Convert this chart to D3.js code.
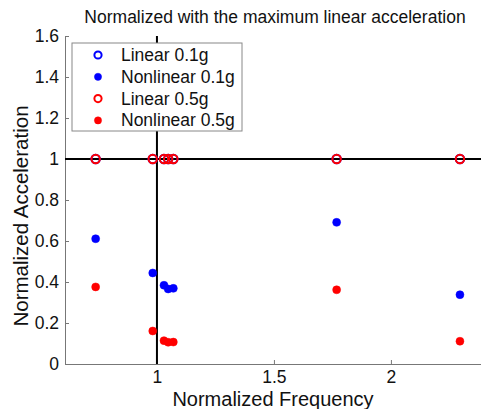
<!DOCTYPE html>
<html><head><meta charset="utf-8">
<script src="https://cdn.jsdelivr.net/npm/d3@7"></script>
<style>body{margin:0;background:#fff}svg{display:block}text{font-family:"Liberation Sans",Arial,sans-serif;fill:#111}</style>
</head><body>
<script>
const freq = [0.738, 0.982, 1.030, 1.048, 1.070, 1.768, 2.295];
const linear01 = [1, 1, 1, 1, 1, 1, 1];
const nonlinear01 = [0.611, 0.444, 0.384, 0.366, 0.369, 0.691, 0.338];
const linear05 = [1, 1, 1, 1, 1, 1, 1];
const nonlinear05 = [0.376, 0.161, 0.114, 0.106, 0.107, 0.362, 0.111];
const xTicks = [1, 1.5, 2];
const yTicks = [0, 0.2, 0.4, 0.6, 0.8, 1, 1.2, 1.4, 1.6];
const seriesNames = ["Linear 0.1g", "Nonlinear 0.1g", "Linear 0.5g", "Nonlinear 0.5g"];
const seriesColors = ["#0000ff", "#0000ff", "#ff0000", "#ff0000"];
const seriesFilled = [false, true, false, true];
const titleText = "Normalized with the maximum linear acceleration";
const xLabel = "Normalized Frequency";
const yLabel = "Normalized Acceleration";

const W = 481, H = 409;
const m = {left: 65, right: 0, top: 36, bottom: 45};
const svg = d3.select("body").append("svg").attr("width", W).attr("height", H);
const x = d3.scaleLinear().domain([0.607, 2.385]).range([m.left, W - m.right]);
const y = d3.scaleLinear().domain([0, 1.6]).range([H - m.bottom, m.top]);

// axes
const xa = svg.append("g").attr("transform", `translate(0,${H - m.bottom})`)
  .call(d3.axisBottom(x).tickValues(xTicks).tickSize(-4).tickPadding(7).tickFormat(d3.format("")));
const ya = svg.append("g").attr("transform", `translate(${m.left},0)`)
  .call(d3.axisLeft(y).tickValues(yTicks).tickSize(-4).tickPadding(6).tickFormat(d3.format("")));
[xa, ya].forEach(a => {
  a.select(".domain").attr("stroke", "#777").attr("stroke-width", 1);
  a.selectAll(".tick line").attr("stroke", "#777");
  a.selectAll(".tick text").attr("font-size", 17.5).attr("fill", "#111")
    .attr("font-family", '"Liberation Sans",Arial,sans-serif');
});

// reference lines
svg.append("line").attr("x1", x(1)).attr("x2", x(1)).attr("y1", y(1.6)).attr("y2", y(0))
  .attr("stroke", "#000").attr("stroke-width", 2);
svg.append("line").attr("x1", x.range()[0]).attr("x2", x.range()[1]).attr("y1", y(1)).attr("y2", y(1))
  .attr("stroke", "#000").attr("stroke-width", 2);

// data
const series = [linear01, nonlinear01, linear05, nonlinear05];
const order = [0, 2, 1, 3];
order.forEach(i => {
  svg.append("g").selectAll("circle").data(series[i].map((v, j) => [freq[j], v])).join("circle")
    .attr("cx", d => x(d[0])).attr("cy", d => y(d[1]))
    .attr("r", seriesFilled[i] ? 4 : 4.2)
    .attr("fill", seriesFilled[i] ? seriesColors[i] : "none")
    .attr("stroke", seriesColors[i]).attr("stroke-width", seriesFilled[i] ? 0.5 : 2);
});

// legend
const lg = svg.append("g");
lg.append("rect").attr("x", 72).attr("y", 43).attr("width", 170).attr("height", 88)
  .attr("fill", "#fff").attr("stroke", "#888").attr("stroke-width", 1);
seriesNames.forEach((n, i) => {
  const cy = 55 + i * 21.8;
  lg.append("circle").attr("cx", 98).attr("cy", cy).attr("r", 3.6)
    .attr("fill", seriesFilled[i] ? seriesColors[i] : "none")
    .attr("stroke", seriesColors[i]).attr("stroke-width", seriesFilled[i] ? 0.5 : 2);
  lg.append("text").attr("x", 121).attr("y", cy + 6).attr("font-size", 17.5).text(n);
});

// titles
svg.append("text").attr("x", 275).attr("y", 23).attr("text-anchor", "middle").attr("font-size", 17.5).text(titleText);
svg.append("text").attr("x", 273).attr("y", 405.5).attr("text-anchor", "middle").attr("font-size", 20).text(xLabel);
svg.append("text").attr("transform", `translate(28,216) rotate(-90)`).attr("text-anchor", "middle").attr("font-size", 20.5).text(yLabel);
</script>
</body></html>
